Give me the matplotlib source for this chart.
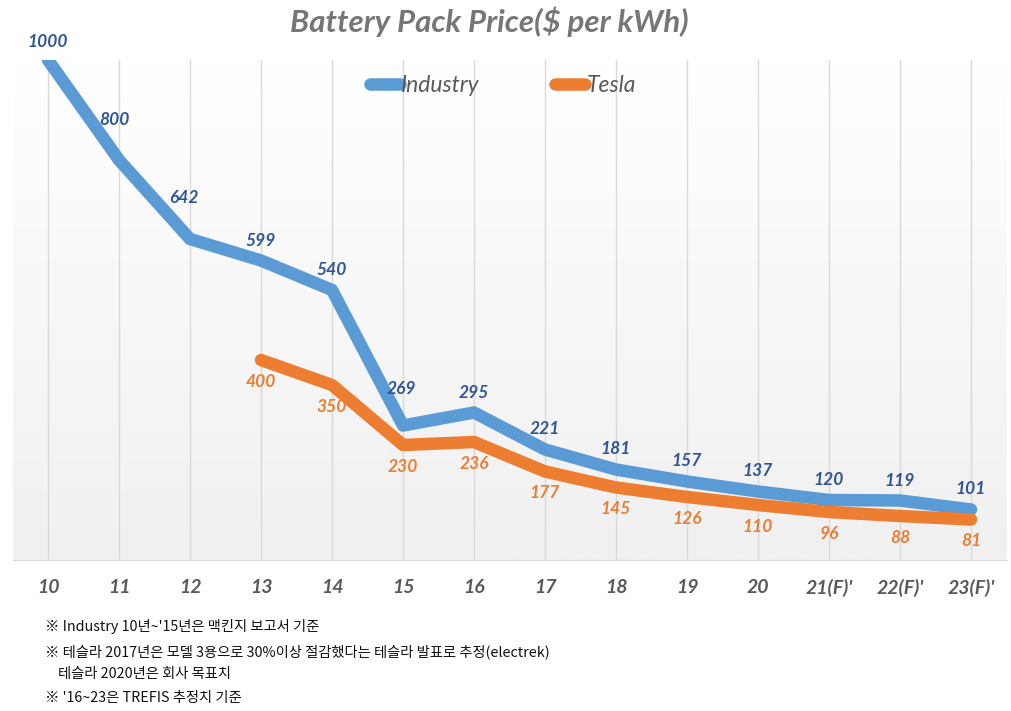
import numpy as np
import matplotlib.pyplot as plt

plt.rcParams['font.family'] = ['Lato', 'Noto Sans CJK KR', 'DejaVu Sans']

years = ['10', '11', '12', '13', '14', '15', '16', '17', '18', '19', '20',
         "21(F)'", "22(F)'", "23(F)'"]
industry = [1000, 800, 642, 599, 540, 269, 295, 221, 181, 157, 137, 120, 119, 101]
tesla = [None, None, None, 400, 350, 230, 236, 177, 145, 126, 110, 96, 88, 81]

notes = [
    "※ Industry 10년~'15년은 맥킨지 보고서 기준",
    "※ 테슬라 2017년은 모델 3용으로 30%이상 절감했다는 테슬라 발표로 추정(electrek)",
    "    테슬라 2020년은 회사 목표치",
    "※ '16~23은 TREFIS 추정치 기준",
]

blue = '#5b9bd5'
orange = '#ed7d31'
blue_txt = '#2f5597'

fig = plt.figure(figsize=(10.11, 7.11), dpi=100)
ax = fig.add_axes([12.5 / 1011, 151 / 711, 994 / 1011, 500 / 711])

x = np.arange(len(years))
ax.set_xlim(-0.5, len(years) - 0.5)
ax.set_ylim(0, 1000)

# soft grey gradient background
grad = np.linspace(0, 1, 256).reshape(-1, 1)
ax.imshow(grad, extent=[-0.5, len(years) - 0.5, 0, 1000], aspect='auto',
          cmap=plt.matplotlib.colors.LinearSegmentedColormap.from_list('g', ['#f0f0f0', '#ffffff']),
          origin='lower', zorder=0)

for xi in x:
    ax.axvline(xi, color='#d9d9d9', lw=1, zorder=1)

ax.plot(x, industry, color=blue, lw=9, solid_capstyle='round',
        solid_joinstyle='round', zorder=3, label='Industry')
tx = [i for i, v in enumerate(tesla) if v is not None]
tv = [v for v in tesla if v is not None]
ax.plot(tx, tv, color=orange, lw=9, solid_capstyle='round',
        solid_joinstyle='round', zorder=3, label='Tesla')

# label offsets in pixels (above for industry)
up = [18, 40, 41, 20, 20, 37, 20, 20, 20, 20, 20, 20, 20, 20]
dx = [0, -5, -6, 0, 0, -2, 0, 0, 0, 0, 0, 0, 0, 0]
for i, v in enumerate(industry):
    ax.annotate(str(v), (x[i], v), xytext=(dx[i] * 0.72, up[i] * 0.72),
                textcoords='offset points', ha='center', va='center',
                fontsize=12.5, fontweight='bold', fontstyle='italic',
                color=blue_txt, zorder=5, annotation_clip=False)
for i, v in zip(tx, tv):
    ax.annotate(str(v), (i, v), xytext=(0, -22 * 0.72),
                textcoords='offset points', ha='center', va='center',
                fontsize=12.5, fontweight='bold', fontstyle='italic',
                color=orange, zorder=5)

ax.set_yticks([])
ax.set_xticks(x)
ax.set_xticklabels(years, fontsize=14, fontweight='bold', fontstyle='italic',
                   color='#595959')
ax.tick_params(axis='x', length=0, pad=14)
for s in ['top', 'right', 'left']:
    ax.spines[s].set_visible(False)
ax.spines['bottom'].set_color('#d9d9d9')

fig.text(489 / 1011, 1 - 22 / 711, 'Battery Pack Price($ per kWh)', ha='center', va='center',
         fontsize=22.5, fontweight='bold', fontstyle='italic', color='#767676')

leg = ax.legend(loc='center', bbox_to_anchor=(503 / 1011, 1 - 86 / 711),
                bbox_transform=fig.transFigure, ncol=2, frameon=False,
                handlelength=1.3, handletextpad=0.05, columnspacing=3.3,
                prop={'size': 16.5, 'style': 'italic'})
for t in leg.get_texts():
    t.set_color('#595959')
for h in leg.get_lines():
    h.set_linewidth(9)
    h.set_solid_capstyle('round')

ys = [627, 652, 674, 698]
for t, yy in zip(notes, ys):
    fig.text(45 / 1011, 1 - yy / 711, t, ha='left', va='center', fontsize=10.3,
             color='#111111', family=['Noto Sans CJK KR', 'DejaVu Sans'])

fig.savefig('out.png', dpi=100)
